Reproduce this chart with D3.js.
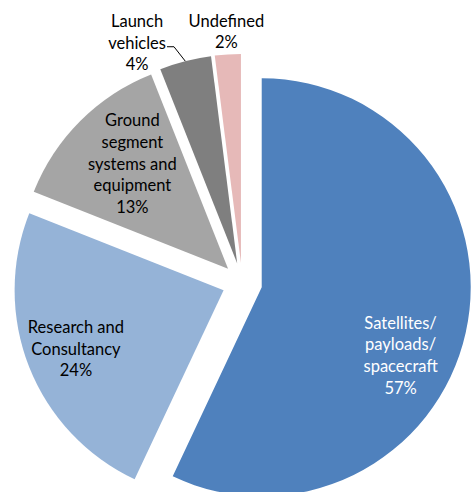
<!DOCTYPE html>
<html>
<head>
<meta charset="utf-8">
<script src="https://cdn.jsdelivr.net/npm/d3@7"></script>
<style>
  html, body { margin: 0; padding: 0; background: #fff; }
  svg { display: block; }
</style>
</head>
<body>
<div id="chart"></div>
<script>
// Data
const categories = ['Satellites/payloads/spacecraft', 'Research and Consultancy',
    'Ground segment systems and equipment', 'Launch vehicles', 'Undefined'];
const shares = [57, 24, 13, 4, 2];
const labelLines = [
    ['Satellites/', 'payloads/', 'spacecraft'],
    ['Research and', 'Consultancy'],
    ['Ground', 'segment', 'systems and', 'equipment'],
    ['Launch', 'vehicles'],
    ['Undefined']
];
const colors = ['#4F81BD', '#95B3D7', '#A5A5A5', '#7F7F7F', '#E6B9B8'];

// label placement: radius as fraction of r, angle nudge in degrees
const labelPlace = [
    { k: 0.74, da: 13.5, fill: '#fff' },
    { k: 0.76, da: 0, fill: '#000' },
    { k: 0.68, da: 2.7, fill: '#000' },
    { k: 1.16, da: -10, fill: '#000', leader: true },
    { k: 1.11, da: 0, fill: '#000' }
];

const width = 471, height = 492;
const cx = 242.2, cy = 282.9;
const radius = 209;
const explode = 20;
const lineH = 21.7;

const svg = d3.select('#chart').append('svg')
    .attr('width', width)
    .attr('height', height);

const g = svg.append('g').attr('transform', `translate(${cx},${cy})`);

const pie = d3.pie().value(d => d.value).sort(null);
const arc = d3.arc().innerRadius(0).outerRadius(radius);

const pieData = pie(categories.map((c, i) => ({ name: c, value: shares[i], i })));

const slices = g.selectAll('.slice')
    .data(pieData)
    .enter()
    .append('g')
    .attr('class', 'slice')
    .attr('transform', d => {
        const mid = (d.startAngle + d.endAngle) / 2;
        return `translate(${Math.sin(mid) * explode},${-Math.cos(mid) * explode})`;
    });

slices.append('path')
    .attr('d', arc)
    .attr('fill', d => colors[d.data.i]);

// labels
slices.each(function (d) {
    const i = d.data.i;
    const p = labelPlace[i];
    const mid = (d.startAngle + d.endAngle) / 2 + p.da * Math.PI / 180;
    const lx = Math.sin(mid) * radius * p.k;
    const ly = -Math.cos(mid) * radius * p.k;
    const lines = labelLines[i].concat([shares[i] + '%']);
    const top = ly - (lines.length - 1) / 2 * lineH;

    const text = d3.select(this).append('text')
        .attr('text-anchor', 'middle')
        .style('font-family', 'Lato, "Open Sans", sans-serif')
        .style('font-size', '16.5px')
        .style('fill', p.fill);

    const spans = lines.map((t, j) => text.append('tspan')
        .attr('x', lx)
        .attr('y', top + j * lineH)
        .attr('dominant-baseline', 'central')
        .text(t));

    if (p.leader) {
        // leader from the end of the last name line to the slice's outer edge
        const j = labelLines[i].length - 1;
        const w = spans[j].node().getComputedTextLength();
        const x0 = lx + w / 2 + 1;
        const y0 = top + j * lineH + 4;
        const m = (d.startAngle + d.endAngle) / 2;
        const ex = Math.sin(m) * radius, ey = -Math.cos(m) * radius;
        d3.select(this).append('polyline')
            .attr('points', `${x0},${y0} ${x0 + 7},${y0} ${ex},${ey}`)
            .attr('fill', 'none')
            .attr('stroke', '#000')
            .attr('stroke-width', 1);
    }
});
</script>
</body>
</html>
